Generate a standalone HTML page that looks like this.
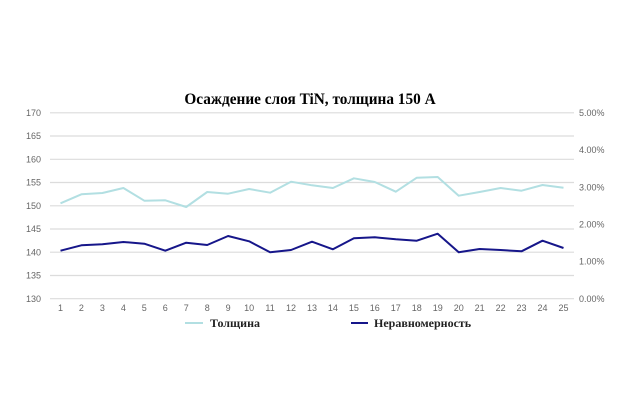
<!DOCTYPE html>
<html><head><meta charset="utf-8"><style>
html,body{margin:0;padding:0;background:#fff;}
svg{display:block;}
</style></head><body>
<svg width="640" height="420" viewBox="0 0 640 420" xmlns="http://www.w3.org/2000/svg">
<rect width="640" height="420" fill="#fff"/>
<text x="310" y="104" text-anchor="middle" font-family="Liberation Serif, serif" font-weight="bold" font-size="15.3" fill="#000">Осаждение слоя TiN, толщина 150 A</text>
<g stroke="#dcdcdc" stroke-width="1.2">
<line x1="50" x2="574" y1="112.8" y2="112.8"/>
<line x1="50" x2="574" y1="136.0" y2="136.0"/>
<line x1="50" x2="574" y1="159.3" y2="159.3"/>
<line x1="50" x2="574" y1="182.5" y2="182.5"/>
<line x1="50" x2="574" y1="205.8" y2="205.8"/>
<line x1="50" x2="574" y1="229.0" y2="229.0"/>
<line x1="50" x2="574" y1="252.2" y2="252.2"/>
<line x1="50" x2="574" y1="275.5" y2="275.5"/>
<line x1="50" x2="574" y1="298.7" y2="298.7"/>
</g>
<g font-family="Liberation Sans, sans-serif" font-size="9" fill="#666" text-anchor="end">
<text x="41" y="116">170</text>
<text x="41" y="139.2">165</text>
<text x="41" y="162.5">160</text>
<text x="41" y="185.7">155</text>
<text x="41" y="209">150</text>
<text x="41" y="232.2">145</text>
<text x="41" y="255.4">140</text>
<text x="41" y="278.7">135</text>
<text x="41" y="301.9">130</text>
</g>
<g font-family="Liberation Sans, sans-serif" font-size="9" fill="#666" text-anchor="start">
<text x="579" y="116">5.00%</text>
<text x="579" y="153.2">4.00%</text>
<text x="579" y="190.4">3.00%</text>
<text x="579" y="227.5">2.00%</text>
<text x="579" y="264.7">1.00%</text>
<text x="579" y="301.9">0.00%</text>
</g>
<g font-family="Liberation Sans, sans-serif" font-size="9" fill="#666" text-anchor="middle">
<text x="60.5" y="311">1</text><text x="81.4" y="311">2</text><text x="102.4" y="311">3</text><text x="123.4" y="311">4</text><text x="144.3" y="311">5</text><text x="165.3" y="311">6</text><text x="186.2" y="311">7</text><text x="207.2" y="311">8</text><text x="228.1" y="311">9</text><text x="249.1" y="311">10</text><text x="270.1" y="311">11</text><text x="291.0" y="311">12</text><text x="312.0" y="311">13</text><text x="332.9" y="311">14</text><text x="353.9" y="311">15</text><text x="374.8" y="311">16</text><text x="395.8" y="311">17</text><text x="416.8" y="311">18</text><text x="437.7" y="311">19</text><text x="458.7" y="311">20</text><text x="479.6" y="311">21</text><text x="500.6" y="311">22</text><text x="521.5" y="311">23</text><text x="542.5" y="311">24</text><text x="563.5" y="311">25</text>
</g>
<polyline fill="none" stroke="#b2dfe2" stroke-width="2" stroke-linejoin="round" points="60.5,203.3 81.4,194.3 102.4,193 123.4,188 144.3,200.7 165.3,200.3 186.2,207 207.2,192 228.1,193.7 249.1,189 270.1,192.7 291.0,181.7 312.0,185.3 332.9,188 353.9,178.3 374.8,182 395.8,191.7 416.8,177.7 437.7,177 458.7,195.7 479.6,192 500.6,188 521.5,190.7 542.5,185 563.5,187.7"/>
<polyline fill="none" stroke="#16168a" stroke-width="2" stroke-linejoin="round" points="60.5,250.7 81.4,245.3 102.4,244.3 123.4,242 144.3,243.7 165.3,250.7 186.2,242.7 207.2,245 228.1,236 249.1,241.3 270.1,252.3 291.0,250 312.0,241.7 332.9,249.3 353.9,238.3 374.8,237.3 395.8,239.3 416.8,240.7 437.7,233.7 458.7,252.3 479.6,249 500.6,250 521.5,251.3 542.5,240.7 563.5,248"/>
<line x1="185" x2="203" y1="323" y2="323" stroke="#b2dfe2" stroke-width="2"/>
<text x="210" y="327" font-family="Liberation Serif, serif" font-weight="bold" font-size="12" fill="#222">Толщина</text>
<line x1="351" x2="368" y1="323" y2="323" stroke="#16168a" stroke-width="2"/>
<text x="374" y="327" font-family="Liberation Serif, serif" font-weight="bold" font-size="12" fill="#222">Неравномерность</text>
</svg>
</body></html>
